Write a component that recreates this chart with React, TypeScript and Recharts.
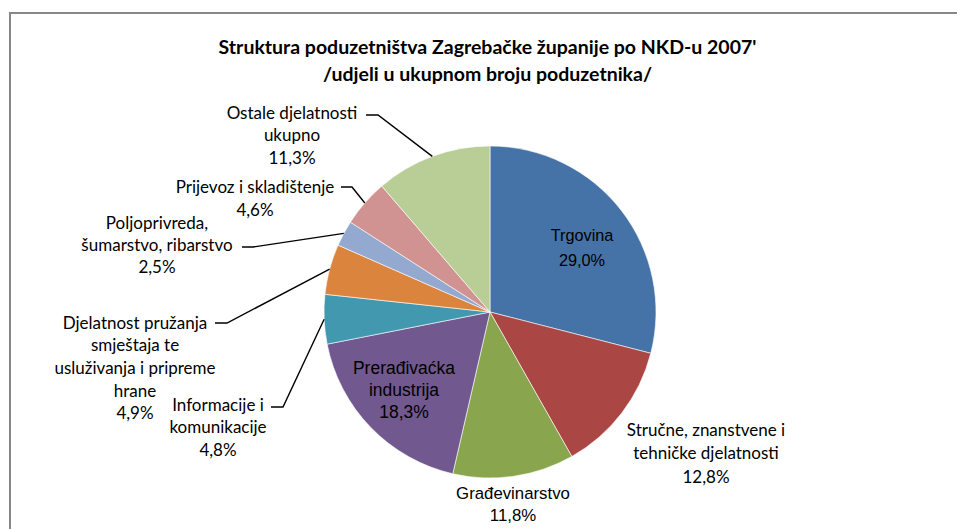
import React from "react";
import { Cell, Pie, PieChart } from "recharts";

const categories = [
  "Trgovina",
  "Stručne, znanstvene i tehničke djelatnosti",
  "Građevinarstvo",
  "Prerađivaćka industrija",
  "Informacije i komunikacije",
  "Djelatnost pružanja smještaja te usluživanja i pripreme hrane",
  "Poljoprivreda, šumarstvo, ribarstvo",
  "Prijevoz i skladištenje",
  "Ostale djelatnosti ukupno",
];

const shares = [29.0, 12.8, 11.8, 18.3, 4.8, 4.9, 2.5, 4.6, 11.3];

// how each label is broken into lines in the original
const labelLines = [
  ["Trgovina"],
  ["Stručne, znanstvene i", "tehničke djelatnosti"],
  ["Građevinarstvo"],
  ["Prerađivaćka", "industrija"],
  ["Informacije i", "komunikacije"],
  ["Djelatnost pružanja", "smještaja te", "usluživanja i pripreme", "hrane"],
  ["Poljoprivreda,", "šumarstvo, ribarstvo"],
  ["Prijevoz i skladištenje"],
  ["Ostale djelatnosti", "ukupno"],
];

const colors = [
  "#4572A7",
  "#AA4643",
  "#89A54E",
  "#71588F",
  "#4198AF",
  "#DB843D",
  "#93A9CF",
  "#D19392",
  "#B9CD96",
];

const data = categories.map((name, i) => ({ name, value: shares[i] }));

const CALIBRI = "Lato, 'Open Sans', sans-serif";
const ARIAL = "'Liberation Sans', Arial, sans-serif";

// label placement relative to pie centre; elbow/end = leader line bend and end
type Layout = {
  dx: number;
  dy: number;
  lh: number;
  font: string;
  size: number;
  elbow?: [number, number];
  end?: [number, number];
};

const layout: Layout[] = [
  { dx: 92, dy: -77, lh: 25, font: ARIAL, size: 16.3 },
  { dx: 216, dy: 117, lh: 23.5, font: CALIBRI, size: 17 },
  { dx: 23, dy: 181, lh: 22.5, font: ARIAL, size: 16.8 },
  { dx: -86, dy: 56, lh: 22, font: ARIAL, size: 17.5 },
  { dx: -272, dy: 92, lh: 22.5, font: CALIBRI, size: 17, elbow: [-207, 95], end: [-219, 95] },
  { dx: -355, dy: 10, lh: 22.7, font: CALIBRI, size: 17, elbow: [-263, 11], end: [-275, 11] },
  { dx: -333, dy: -90, lh: 22, font: CALIBRI, size: 17, elbow: [-237, -65], end: [-248, -65] },
  { dx: -235, dy: -126, lh: 23, font: CALIBRI, size: 17, elbow: [-138, -125], end: [-149, -125] },
  { dx: -198, dy: -200, lh: 22.5, font: CALIBRI, size: 17, elbow: [-112, -197], end: [-124, -197] },
];

const RAD = Math.PI / 180;

const renderLabel = (props: any) => {
  const { cx, cy, midAngle, outerRadius, index, value } = props;
  const l = layout[index];
  const lines = [...labelLines[index], value.toFixed(1).replace(".", ",") + "%"];
  const x = cx + l.dx;
  const y = cy + l.dy;
  let leader = null;
  if (l.elbow && l.end) {
    const sx = cx + outerRadius * Math.cos(-midAngle * RAD);
    const sy = cy + outerRadius * Math.sin(-midAngle * RAD);
    leader = (
      <path
        d={`M${sx},${sy}L${cx + l.elbow[0]},${cy + l.elbow[1]}L${cx + l.end[0]},${cy + l.end[1]}`}
        fill="none"
        stroke="#000"
        strokeWidth={1.4}
      />
    );
  }
  return (
    <g key={`lbl-${index}`}>
      {leader}
      {lines.map((t, k) => (
        <text
          key={k}
          x={x}
          y={y + k * l.lh}
          textAnchor="middle"
          dominantBaseline="central"
          fontFamily={l.font}
          fontSize={l.size}
          fill="#000"
        >
          {t}
        </text>
      ))}
    </g>
  );
};

export default function App() {
  return (
    <div
      style={{
        position: "absolute",
        left: 0,
        top: 0,
        width: 957,
        height: 529,
        overflow: "hidden",
        background: "#fff",
      }}
    >
      <div
        style={{
          position: "absolute",
          left: 9,
          top: 12,
          width: 980,
          height: 560,
          border: "2px solid #878787",
        }}
      />
      <div
        style={{
          position: "absolute",
          left: 0,
          top: 33,
          width: 975,
          textAlign: "center",
          fontFamily: CALIBRI,
          fontWeight: 700,
          fontSize: 19.5,
          lineHeight: "27px",
          color: "#000",
        }}
      >
        Struktura poduzetništva Zagrebačke županije po NKD-u 2007'
        <br />
        /udjeli u ukupnom broju poduzetnika/
      </div>
      <div style={{ position: "absolute", left: 0, top: 0 }}>
        <PieChart
          width={957}
          height={529}
          margin={{ top: 0, right: 0, bottom: 0, left: 0 }}
        >
          <Pie
            data={data}
            dataKey="value"
            nameKey="name"
            cx={490}
            cy={312}
            outerRadius={166}
            startAngle={90}
            endAngle={-270}
            stroke="#ffffff"
            strokeWidth={0.6}
            label={renderLabel}
            labelLine={false}
            isAnimationActive={false}
          >
            {data.map((d, i) => (
              <Cell key={d.name} fill={colors[i]} />
            ))}
          </Pie>
        </PieChart>
      </div>
    </div>
  );
}
